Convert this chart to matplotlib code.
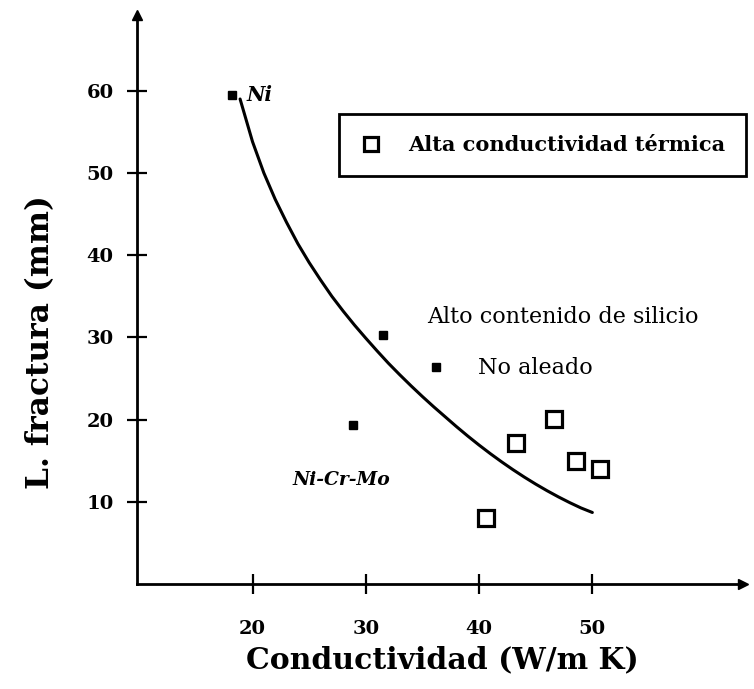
import matplotlib.pyplot as plt

plt.rcParams['font.family'] = ['DejaVu Serif']

# puntos de la curva de tendencia
curve_x = [18.9, 20, 21, 22, 23, 24, 25, 26, 27, 28, 29, 30, 31, 32, 33, 34, 35,
           36, 37, 38, 39, 40, 41, 42, 43, 44, 45, 46, 47, 48, 49, 50]
curve_y = [59.0, 53.8, 50.0, 46.8, 44.0, 41.4, 39.1, 37.0, 35.0, 33.2, 31.5, 29.9,
           28.35, 26.85, 25.45, 24.1, 22.8, 21.55, 20.35, 19.15, 18.0, 16.9, 15.85,
           14.85, 13.9, 13.0, 12.15, 11.35, 10.6, 9.9, 9.25, 8.7]

# aleaciones (cuadrados rellenos)
alloy_x = [18.2, 31.5, 36.2, 28.9]
alloy_y = [59.5, 30.3, 26.4, 19.4]

# alta conductividad termica (cuadrados vacios)
high_x = [40.6, 43.3, 46.6, 48.6, 50.7]
high_y = [8.05, 17.1, 20.1, 15.0, 14.0]

xticks = [20, 30, 40, 50]
yticks = [10, 20, 30, 40, 50, 60]

fig = plt.figure(figsize=(7.54, 6.89), dpi=100)
ax = fig.add_axes([0.1817, 0.1524, 0.8037, 0.8256])

ax.plot(curve_x, curve_y, color='black', lw=2.2, solid_capstyle='round')
ax.plot(alloy_x, alloy_y, 's', color='black', ms=6)
ax.plot(high_x, high_y, 's', mfc='white', mec='black', mew=2.3, ms=12,
        label='Alta conductividad térmica', ls='none')

ax.text(19.5, 59.5, 'Ni', fontsize=14.5, fontweight='bold', style='italic', va='center')
ax.text(23.5, 12.7, 'Ni-Cr-Mo', fontsize=13.5, fontweight='bold', style='italic', va='center')
ax.text(35.4, 32.5, 'Alto contenido de silicio', fontsize=16, va='center')
ax.text(39.9, 26.3, 'No aleado', fontsize=16, va='center')

ax.set_xlim(9.8, 63.3)
ax.set_ylim(0, 69.2)
ax.set_xticks(xticks)
ax.set_yticks(yticks)
for s in ['top', 'right']:
    ax.spines[s].set_visible(False)
for s in ['left', 'bottom']:
    ax.spines[s].set_linewidth(2)
ax.plot(1, 0, '>k', ms=7, transform=ax.transAxes, clip_on=False)
ax.plot(0, 1, '^k', ms=7, transform=ax.transAxes, clip_on=False)

ax.tick_params(direction='inout', length=14, width=1.6, labelsize=14)
ax.tick_params(axis='x', pad=19)
ax.tick_params(axis='y', pad=10)
for lab in ax.get_xticklabels() + ax.get_yticklabels():
    lab.set_fontweight('bold')

ax.set_xlabel('Conductividad (W/m K)', fontsize=21.5, fontweight='bold', va='center')
ax.set_ylabel('L. fractura (mm)', fontsize=22.5, fontweight='bold', va='center')
ax.xaxis.set_label_coords(0.504, -0.1336)
ax.yaxis.set_label_coords(-0.160, 0.425)

leg = ax.legend(loc='upper right', bbox_to_anchor=(746 / 754, 1 - 114 / 689),
                bbox_transform=fig.transFigure, borderaxespad=0, fancybox=False,
                edgecolor='black', framealpha=1, prop={'size': 15, 'weight': 'bold'},
                borderpad=1.0, handlelength=1.0, handletextpad=1.3, markerscale=0.85)
leg.get_frame().set_linewidth(2)

fig.savefig('out.png', dpi=100)
